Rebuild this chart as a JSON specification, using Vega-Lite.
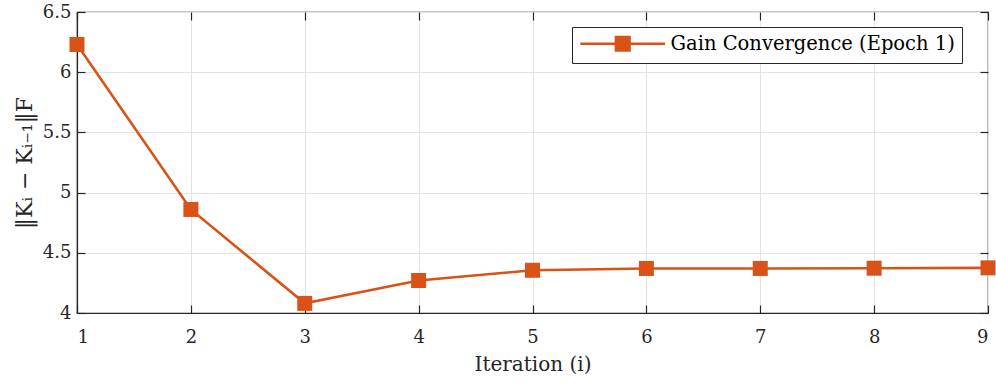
{
  "$schema": "https://vega.github.io/schema/vega-lite/v6.json",
  "width": 911,
  "height": 301,
  "autosize": {"type": "none"},
  "padding": {"left": 77, "top": 12, "right": 8, "bottom": 72},
  "background": "white",
  "config": {
    "font": "DejaVu Serif",
    "view": {"stroke": "#262626", "strokeWidth": 1.2},
    "axis": {
      "domainColor": "#262626",
      "domainWidth": 1.2,
      "tickColor": "#262626",
      "tickSize": -8,
      "tickWidth": 1.2,
      "labelColor": "#262626",
      "labelFontSize": 18,
      "titleColor": "#262626",
      "titleFontSize": 20,
      "titleFontWeight": "normal",
      "gridColor": "#e3e3e3",
      "gridWidth": 1
    }
  },
  "data": {
    "values": [
      {"iter": 1, "norm": 6.23, "series": "Gain Convergence (Epoch 1)"},
      {"iter": 2, "norm": 4.86, "series": "Gain Convergence (Epoch 1)"},
      {"iter": 3, "norm": 4.08, "series": "Gain Convergence (Epoch 1)"},
      {"iter": 4, "norm": 4.27, "series": "Gain Convergence (Epoch 1)"},
      {"iter": 5, "norm": 4.355, "series": "Gain Convergence (Epoch 1)"},
      {"iter": 6, "norm": 4.37, "series": "Gain Convergence (Epoch 1)"},
      {"iter": 7, "norm": 4.37, "series": "Gain Convergence (Epoch 1)"},
      {"iter": 8, "norm": 4.372, "series": "Gain Convergence (Epoch 1)"},
      {"iter": 9, "norm": 4.375, "series": "Gain Convergence (Epoch 1)"}
    ]
  },
  "resolve": {"axis": {"x": "independent", "y": "independent"}},
  "layer": [
    {
      "mark": {"type": "line", "strokeWidth": 2.6, "clip": false},
      "encoding": {
        "x": {
          "field": "iter", "type": "quantitative",
          "scale": {"domain": [1, 9], "nice": false, "zero": false},
          "axis": {"values": [1, 2, 3, 4, 5, 6, 7, 8, 9], "title": "Iteration (i)", "labelPadding": 23, "titlePadding": 8, "orient": "bottom", "grid": true}
        },
        "y": {
          "field": "norm", "type": "quantitative",
          "scale": {"domain": [4, 6.5], "nice": false, "zero": false},
          "axis": {"values": [4, 4.5, 5, 5.5, 6, 6.5], "format": "~g", "title": "‖Kᵢ − Kᵢ₋₁‖F", "titleFontSize": 22, "labelPadding": 14, "titlePadding": 6, "orient": "left", "grid": true}
        },
        "color": {
          "field": "series", "type": "nominal",
          "scale": {"range": ["#D95319"]},
          "legend": {
            "title": null,
            "orient": "none",
            "legendX": 495,
            "legendY": 15,
            "strokeColor": "#262626",
            "fillColor": "white",
            "padding": 7,
            "labelFontSize": 19.5,
            "labelColor": "#000000",
            "labelLimit": 400,
            "labelOffset": 38,
            "symbolOffset": 34,
            "symbolType": "M-5.3,0H5.3M-0.85,-0.85H0.85V0.85H-0.85Z",
            "symbolSize": 256,
            "symbolStrokeWidth": 2.6,
            "symbolFillColor": "#D95319",
            "symbolStrokeColor": "#D95319",
            "symbolOpacity": 1
          }
        }
      }
    },
    {
      "mark": {"type": "square", "size": 225, "filled": true, "opacity": 1, "color": "#D95319", "clip": false},
      "encoding": {
        "x": {"field": "iter", "type": "quantitative", "axis": {"orient": "top", "labels": false, "title": null, "domain": false, "grid": false, "values": [1, 2, 3, 4, 5, 6, 7, 8, 9]}},
        "y": {"field": "norm", "type": "quantitative", "axis": {"orient": "right", "labels": false, "title": null, "domain": false, "grid": false, "values": [4, 4.5, 5, 5.5, 6, 6.5]}}
      }
    }
  ]
}
